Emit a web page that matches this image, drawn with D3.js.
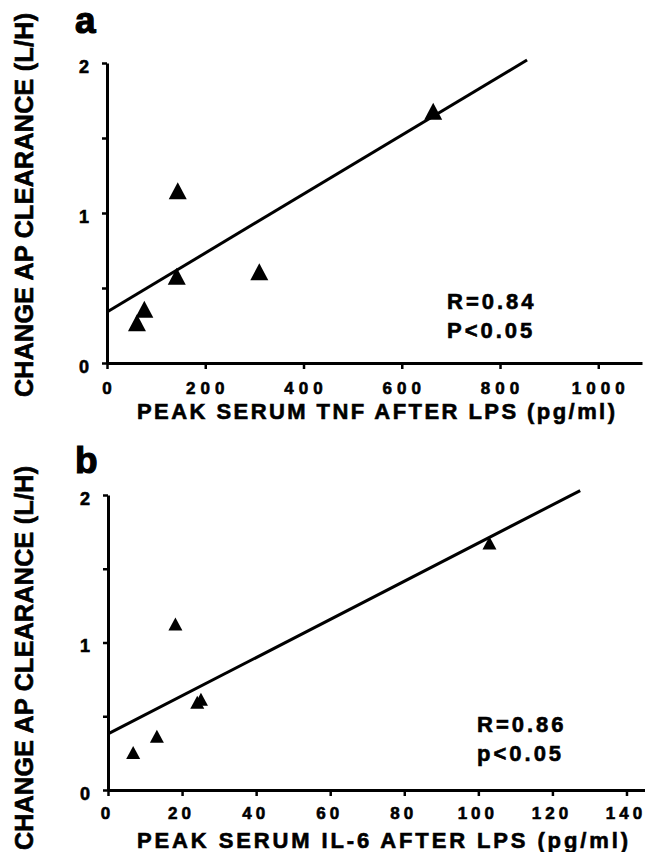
<!DOCTYPE html>
<html>
<head>
<meta charset="utf-8">
<script src="https://cdnjs.cloudflare.com/ajax/libs/d3/7.8.5/d3.min.js"></script>
<style>
    body { margin: 0; background: #ffffff; }
    svg { display: block; }
    text { font-family: "Liberation Sans", Arial, Helvetica, sans-serif; font-weight: bold; fill: #000; stroke: #000; stroke-width: 0.6px; }
</style>
</head>
<body>
<div id="chart"></div>
<script>
// Data
var tnf_x = [61, 76, 144, 142, 310, 664];
var tnf_y = [0.25, 0.34, 1.13, 0.56, 0.59, 1.66];
var tnf_fit_x = [0, 855];
var tnf_fit_y = [0.34, 2.02];
var tnf_ticks = [0, 200, 400, 600, 800, 1000];

var il6_x = [6.8, 13.2, 18.2, 24.1, 25.1, 103];
var il6_y = [0.24, 0.35, 1.11, 0.58, 0.60, 1.66];
var il6_fit_x = [0, 127.5];
var il6_fit_y = [0.38, 2.03];
var il6_ticks = [0, 20, 40, 60, 80, 100, 120, 140];

var y_ticks = [0, 1, 2];
var y_minor = [0.5, 1.5];

// SVG Element
var chart_width = 645;
var chart_height = 852;
var svg = d3.select('#chart')
    .append('svg')
    .attr('width', chart_width)
    .attr('height', chart_height);

function drawPanel(p) {
    var g = svg.append('g');

    var x_scale = d3.scaleLinear()
        .domain(p.x_domain)
        .range(p.x_range);

    var y_scale = d3.scaleLinear()
        .domain([0, 2])
        .range(p.y_range);

    // x axis
    var x_axis = g.append('g')
        .attr('transform', 'translate(0,' + p.y_range[0] + ')')
        .call(d3.axisBottom(x_scale)
            .tickValues(p.x_ticks)
            .tickSize(6)
            .tickSizeOuter(0)
            .tickPadding(p.x_pad)
            .tickFormat(d3.format('d')));

    // y axis, major + minor ticks
    var y_axis = g.append('g')
        .attr('transform', 'translate(' + p.x_range[0] + ',0)')
        .call(d3.axisLeft(y_scale)
            .tickValues(y_ticks.concat(y_minor))
            .tickSize(5)
            .tickSizeOuter(0)
            .tickPadding(13)
            .tickFormat(function (d) { return y_ticks.indexOf(d) >= 0 ? d : ''; }));

    g.selectAll('.domain').attr('stroke', '#000').attr('stroke-width', 3);
    g.selectAll('.tick line').attr('stroke', '#000').attr('stroke-width', 2.5);

    x_axis.selectAll('text')
        .attr('font-size', 17)
        .attr('letter-spacing', p.x_ls)
        .attr('dx', p.x_dx);

    y_axis.selectAll('text')
        .attr('font-size', 18)
        .attr('dy', '0.5em');

    // regression line
    var fit = d3.zip(p.fit_x, p.fit_y);
    g.append('path')
        .datum(fit)
        .attr('d', d3.line()
            .x(function (d) { return x_scale(d[0]); })
            .y(function (d) { return y_scale(d[1]); }))
        .attr('fill', 'none')
        .attr('stroke', '#000')
        .attr('stroke-width', 3);

    // triangles
    var w = p.tri_w, h = p.tri_h;
    g.selectAll('.tri')
        .data(d3.zip(p.xs, p.ys))
        .enter()
        .append('path')
        .attr('class', 'tri')
        .attr('d', function (d) {
            var cx = x_scale(d[0]), cy = y_scale(d[1]);
            return 'M' + cx + ',' + (cy - 2 * h / 3) +
                'L' + (cx + w / 2) + ',' + (cy + h / 3) +
                'L' + (cx - w / 2) + ',' + (cy + h / 3) + 'Z';
        })
        .attr('fill', '#000');

    // panel letter
    g.append('text')
        .text(p.letter)
        .attr('x', 75)
        .attr('y', p.letter_y)
        .attr('font-size', 37)
        .style('stroke-width', '1.2px');

    // y title
    g.append('text')
        .text('CHANGE AP CLEARANCE (L/H)')
        .attr('transform', 'translate(33,' + p.ytitle_y + ') rotate(-90)')
        .attr('text-anchor', 'middle')
        .attr('font-size', 25)
        .attr('textLength', 384)
        .attr('lengthAdjust', 'spacing');

    // x title
    g.append('text')
        .text(p.xtitle)
        .attr('x', 137)
        .attr('y', p.xtitle_y)
        .attr('font-size', 22)
        .attr('textLength', p.xtitle_len)
        .attr('lengthAdjust', 'spacing');

    // stats
    g.selectAll('.stat')
        .data(p.stats)
        .enter()
        .append('text')
        .attr('class', 'stat')
        .text(function (d) { return d; })
        .attr('x', p.stat_x)
        .attr('y', function (d, i) { return p.stat_y + i * 29; })
        .attr('font-size', 22)
        .attr('letter-spacing', 3);
}

drawPanel({
    xs: tnf_x, ys: tnf_y, fit_x: tnf_fit_x, fit_y: tnf_fit_y,
    x_domain: [0, 1089], x_range: [107, 642], y_range: [363, 63],
    x_ticks: tnf_ticks, x_pad: 13, x_dx: 2, x_ls: 5,
    tri_w: 18, tri_h: 17,
    letter: 'a', letter_y: 33, ytitle_y: 205,
    xtitle: 'PEAK SERUM TNF AFTER LPS (pg/ml)', xtitle_y: 419, xtitle_len: 478,
    stats: ['R=0.84', 'P<0.05'], stat_x: 447, stat_y: 308.5
});

drawPanel({
    xs: il6_x, ys: il6_y, fit_x: il6_fit_x, fit_y: il6_fit_y,
    x_domain: [0, 145], x_range: [108, 645], y_range: [790, 495],
    x_ticks: il6_ticks, x_pad: 11, x_dx: -1, x_ls: 4,
    tri_w: 14, tri_h: 13,
    letter: 'b', letter_y: 473, ytitle_y: 658,
    xtitle: 'PEAK SERUM IL-6 AFTER LPS (pg/ml)', xtitle_y: 848, xtitle_len: 491,
    stats: ['R=0.86', 'p<0.05'], stat_x: 477, stat_y: 731.5
});
</script>
</body>
</html>
